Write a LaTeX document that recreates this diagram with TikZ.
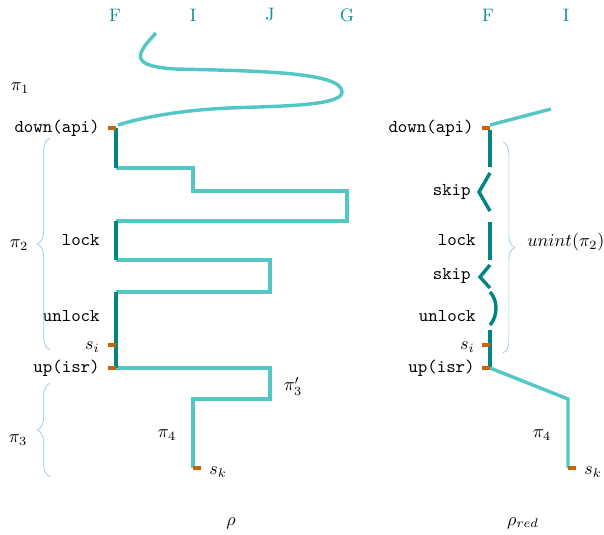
\documentclass[tikz,border=0pt]{standalone}
\usetikzlibrary{positioning,decorations.pathreplacing}
\definecolor{lteal}{RGB}{82,199,198}
\definecolor{dteal}{RGB}{0,132,132}
\definecolor{tickc}{RGB}{200,100,10}
\definecolor{bracec}{RGB}{150,200,232}
\tikzstyle{run}=[lteal, line width=1.9pt]
\tikzstyle{act}=[dteal, line width=1.9pt]
\tikzstyle{stp}=[tickc, line width=1.9pt]
\tikzstyle{lbl}=[font=\ttfamily, anchor=east, inner sep=0pt]
\tikzstyle{col}=[text=dteal!85!lteal, inner sep=0pt]
\tikzstyle{brc}=[bracec, thin, decorate]

\begin{document}
\begin{tikzpicture}[x=0.555pt,y=-0.555pt,inner sep=0pt]
\useasboundingbox (0,0) rectangle (604,534);

% columns
\node (cF) [col] at (115,15) {F};
\node (cI) [col] at (193,15) {I};
\node (cJ) [col] at (270,15) {J};
\node (cG) [col] at (347,15) {G};
\node (rF) [col] at (488,15) {F};
\node (rI) [col] at (566,15) {I};

% rho
\draw[run] (156,33) .. controls (135,55) and (130,66) .. (175,69)
  .. controls (260,71) and (342,72) .. (342,92)
  .. controls (342,106) and (280,106) .. (230,108)
  .. controls (180,110) and (140,118) .. (118,125);
\draw[run] (116,168) -| (193,191) -| (347,221) -- (116,221);
\draw[run] (116,260) -| (270,292) -- (116,292);
\draw[run] (116,368) -| (270,399) -| (193,468);
\draw[act] (116,128) -- (116,168);
\draw[act] (116,221) -- (116,260);
\draw[act] (116,292) -- (116,368);

\coordinate (down) at (116,128);
\coordinate (si) at (116,345);
\coordinate (up) at (116,368);
\coordinate (sk) at (193,468);
\draw[stp] (down) -- +(-8,0);
\draw[stp] (si) -- +(-8,0);
\draw[stp] (up) -- +(-8,0);
\draw[stp] (sk) -- +(8,0);

\node (ldown) [lbl] at (100,128) {down(api)};
\node (llock) [lbl] at (100,240) {lock};
\node (lunlock) [lbl] at (100,316) {unlock};
\node (lsi) [anchor=east] at (100,347) {$s_i$};
\node (lup) [lbl] at (100,368) {up(isr)};
\node (lsk) at (218,472) {$s_k$};
\node (p1) at (20,88) {$\pi_1$};
\node (p2) at (19,245) {$\pi_2$};
\node (p3) at (18,440) {$\pi_3$};
\node (p3b) at (293,386) {$\pi_3'$};
\node (p4) at (167,435) {$\pi_4$};
\node (rho) at (231,523) {$\rho$};

\draw[brc, decoration={brace, amplitude=7pt}] (50,350) -- (50,138);
\draw[brc, decoration={brace, amplitude=7pt}] (50,477) -- (50,383);

% rho_red
\draw[run] (490,125) -- (551,109);
\draw[act] (490,130) -- (490,167);
\draw[act] (490,173) -- (479,192) -- (490,211);
\draw[act] (490,222) -- (490,260);
\draw[act] (490,265) -- (480,277) -- (490,288);
\draw[act] (490,292) .. controls (498,300) and (498,316) .. (490,325);
\draw[act] (490,330) -- (490,368);
\draw[run] (490,368) -- (568,399) -- (568,468);

\coordinate (rdown) at (490,128);
\coordinate (rsi) at (490,345);
\coordinate (rup) at (490,368);
\coordinate (rsk) at (568,468);
\draw[stp] (rdown) -- +(-8,0);
\draw[stp] (rsi) -- +(-8,0);
\draw[stp] (rup) -- +(-8,0);
\draw[stp] (rsk) -- +(8,0);

\node (qdown) [lbl] at (474,128) {down(api)};
\node (qskip) [lbl] at (471,192) {skip};
\node (qlock) [lbl] at (476,240) {lock};
\node (qskipb) [lbl] at (471,276) {skip};
\node (qunlock) [lbl] at (476,316) {unlock};
\node (qsi) [anchor=east] at (475,347) {$s_i$};
\node (qup) [lbl] at (475,368) {up(isr)};
\node (qsk) at (593,472) {$s_k$};
\node (q4) at (542,435) {$\pi_4$};
\node (qrho) at (523,523) {$\rho_{red}$};
\node (qun) [anchor=west] at (527,242) {$unint(\pi_2)$};

\draw[brc, decoration={brace, amplitude=6.5pt}] (503,142) -- (503,353);
\end{tikzpicture}
\end{document}
